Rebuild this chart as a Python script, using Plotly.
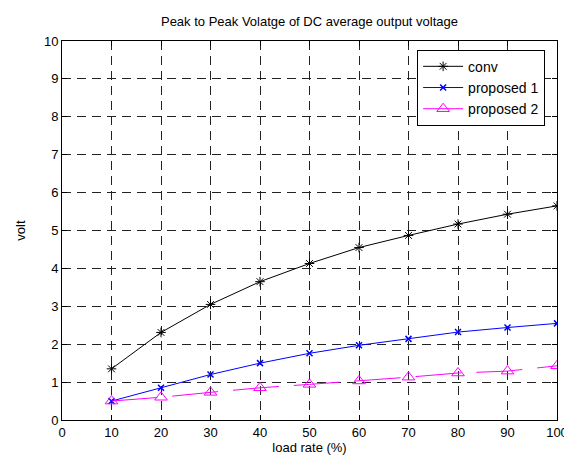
import plotly.graph_objects as go

load_rate = [10, 20, 30, 40, 50, 60, 70, 80, 90, 100]
conv = [1.35, 2.31, 3.05, 3.65, 4.13, 4.55, 4.87, 5.17, 5.43, 5.65]
proposed1 = [0.50, 0.85, 1.20, 1.50, 1.76, 1.97, 2.14, 2.32, 2.44, 2.55]
proposed2 = [0.50, 0.60, 0.73, 0.85, 0.94, 1.03, 1.13, 1.24, 1.29, 1.43]

x_ticks = list(range(0, 101, 10))
y_ticks = list(range(0, 11, 1))

FONT = "Liberation Sans, Arial, sans-serif"

fig = go.Figure()
fig.add_trace(go.Scatter(
    x=load_rate, y=conv, name="conv", mode="lines+markers",
    line=dict(color="black", width=1),
    marker=dict(symbol="asterisk-open", size=8, color="black", line=dict(width=1, color="black")),
))
fig.add_trace(go.Scatter(
    x=load_rate, y=proposed1, name="proposed 1", mode="lines+markers",
    line=dict(color="blue", width=1),
    marker=dict(symbol="x-thin-open", size=6, color="blue", line=dict(width=1.5, color="blue")),
))
fig.add_trace(go.Scatter(
    x=load_rate, y=proposed2, name="proposed 2", mode="lines+markers",
    line=dict(color="magenta", width=1, dash="46px,15px"),
    marker=dict(symbol="triangle-up-open", size=11, color="magenta", line=dict(width=1, color="magenta")),
))

axis_common = dict(
    showline=True, linecolor="black", linewidth=1, mirror="ticks",
    ticks="inside", ticklen=5, tickcolor="black",
    showgrid=True, gridcolor="#222222", gridwidth=1, griddash="9px,6px",
    zeroline=False, tickfont=dict(family=FONT, size=13, color="black"),
)

fig.update_xaxes(range=[0, 100], tickvals=x_ticks,
                 title=dict(text="load rate (%)", font=dict(family=FONT, size=13, color="black"), standoff=4),
                 **axis_common)
fig.update_yaxes(range=[0, 10], tickvals=y_ticks,
                 title=dict(text="volt", font=dict(family=FONT, size=13, color="black"), standoff=15),
                 **axis_common)

fig.update_layout(
    width=572, height=457,
    margin=dict(l=53, r=13, t=33, b=41),
    paper_bgcolor="white", plot_bgcolor="white",
    font=dict(family=FONT, size=13, color="black"),
    title=dict(text="Peak to Peak Volatge of DC average output voltage",
               x=0.5, xref="paper", y=1 - 13 / 457, yanchor="middle",
               font=dict(family=FONT, size=13, color="black")),
    legend=dict(x=0.976, y=0.977, xanchor="right", yanchor="top",
                bgcolor="white", bordercolor="black", borderwidth=1,
                font=dict(family=FONT, size=14, color="black"),
                tracegroupgap=0, itemwidth=40),
    showlegend=True,
)

fig.write_html("out.html")
